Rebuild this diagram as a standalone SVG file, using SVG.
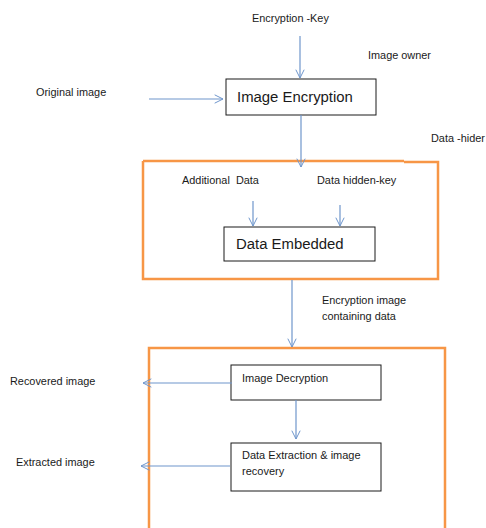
<svg xmlns="http://www.w3.org/2000/svg" width="486" height="528" viewBox="0 0 486 528">
<style>
text{font-family:"Liberation Sans",Arial,sans-serif;fill:#1a1a1a}
.s{font-size:10.9px}
.b{font-size:14.9px}
.m{font-size:11px}
.box{fill:#fff;stroke:#1a1a1a;stroke-width:1}
.grp{fill:none;stroke:#F79646;stroke-width:2.5}
.c{stroke:#6f96cc;stroke-width:1.2;fill:none;marker-end:url(#ah)}
</style>
<defs>
<marker id="ah" viewBox="0 0 12 12" refX="11" refY="6" markerWidth="10" markerHeight="10" markerUnits="userSpaceOnUse" orient="auto">
<path d="M1,1 L11,6 L1,11" fill="none" stroke="#6f96cc" stroke-width="1.2"/>
</marker>
</defs>
<rect width="486" height="528" fill="#fff"/>
<g id="labels">
<text class="s" x="252" y="22">Encryption -Key</text>
<text class="s" x="368" y="59">Image owner</text>
<text class="s" x="36" y="96">Original image</text>
<text class="s" x="431" y="142">Data -hider</text>
<text class="s" x="322" y="304">Encryption image</text>
<text class="s" x="322" y="320">containing data</text>
<text class="s" x="10" y="385">Recovered image</text>
<text class="s" x="16" y="466">Extracted image</text>
</g>
<g id="data-hider-group">
<path class="grp" d="M143,161 H404 M404,162 H438 V279 H143 V161"/>
<text class="s" x="182" y="184">Additional&#160; Data</text>
<text class="s" x="317" y="184">Data hidden-key</text>
</g>
<g id="receiver-group">
<path class="grp" d="M149,528 V348 H445 V528"/>
</g>
<g id="image-encryption">
<rect class="box" x="226" y="79" width="150" height="36"/>
<text class="b" x="237" y="102">Image Encryption</text>
</g>
<g id="data-embedded">
<rect class="box" x="224" y="227" width="151" height="34"/>
<text class="b" x="236" y="249">Data Embedded</text>
</g>
<g id="image-decryption">
<rect class="box" x="231" y="365" width="150" height="35"/>
<text class="m" x="242" y="382">Image Decryption</text>
</g>
<g id="data-extraction">
<rect class="box" x="231" y="443" width="150" height="48"/>
<text class="m" x="242" y="459">Data Extraction &amp; image</text>
<text class="m" x="242" y="475">recovery</text>
</g>
<g id="connectors">
<line class="c" x1="300" y1="36" x2="300" y2="78"/>
<line class="c" x1="149" y1="99" x2="223" y2="99"/>
<line class="c" x1="301" y1="115" x2="301" y2="167"/>
<line class="c" x1="253" y1="201" x2="253" y2="226"/>
<line class="c" x1="340" y1="205" x2="340" y2="226"/>
<line class="c" x1="292" y1="280" x2="292" y2="347"/>
<line class="c" x1="296" y1="400" x2="296" y2="439"/>
<line class="c" x1="232" y1="383" x2="143" y2="383"/>
<line class="c" x1="230" y1="466" x2="141" y2="466"/>
</g>
</svg>
